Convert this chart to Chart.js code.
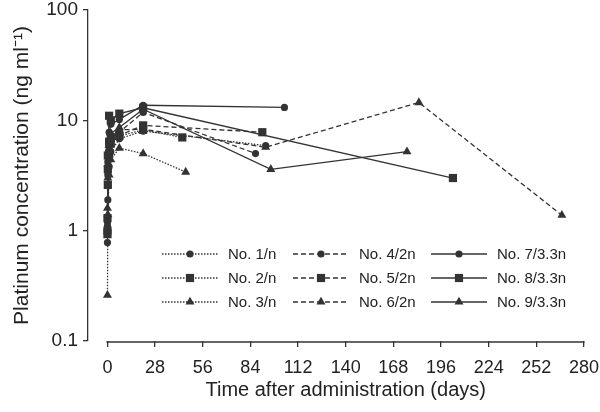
<!DOCTYPE html>
<html>
<head>
<meta charset="utf-8">
<script src="https://cdn.jsdelivr.net/npm/chart.js@4.4.0/dist/chart.umd.min.js"></script>
<style>
  html, body { margin: 0; padding: 0; background: #fff; }
  #wrap { width: 600px; height: 412px; }
</style>
</head>
<body>
<div id="wrap"><canvas id="grafico" width="600" height="412"></canvas></div>
<script>
// days after administration / platinum (ng/ml)
const t1 = [0.04, 0.25, 1, 2, 7, 21, 93];
const c1 = [0.78, 1.9, 3.8, 5.2, 6.8, 8.0, 5.9];
const t2 = [0.04, 0.25, 1, 2, 7, 21, 44];
const c2 = [1.0, 2.6, 5.0, 6.2, 7.2, 8.2, 7.0];
const t3 = [0.04, 0.25, 1, 2, 7, 21, 46];
const c3 = [0.26, 1.4, 3.2, 4.4, 5.6, 5.0, 3.4];
const t4 = [0.04, 0.25, 1, 2, 7, 21, 87];
const c4 = [1.1, 3.2, 5.6, 6.8, 7.8, 11.8, 5.0];
const t5 = [0.04, 0.25, 1, 2, 7, 21, 91];
const c5 = [1.3, 3.6, 6.4, 7.0, 7.3, 9.0, 7.8];
const t6 = [0.04, 0.25, 1, 2, 7, 21, 93, 183, 267];
const c6 = [1.6, 4.0, 6.0, 7.2, 8.2, 8.3, 5.7, 14.5, 1.38];
const t7 = [0.04, 0.25, 1, 2, 7, 21, 104];
const c7 = [1.2, 4.2, 7.8, 9.2, 10.2, 13.7, 13.1];
const t8 = [0.04, 0.25, 1, 2, 7, 21, 203];
const c8 = [0.95, 4.8, 11.0, 10.0, 11.5, 13.0, 3.0];
const t9 = [0.04, 0.25, 1, 2, 7, 21, 96, 176];
const c9 = [0.9, 3.0, 6.0, 7.6, 8.6, 12.6, 3.6, 5.2];

const nomes = ['No. 1/n', 'No. 2/n', 'No. 3/n', 'No. 4/2n', 'No. 5/2n', 'No. 6/2n', 'No. 7/3.3n', 'No. 8/3.3n', 'No. 9/3.3n'];
const tempos = [t1, t2, t3, t4, t5, t6, t7, t8, t9];
const concs = [c1, c2, c3, c4, c5, c6, c7, c8, c9];
const xTicks = [0, 28, 56, 84, 112, 140, 168, 196, 224, 252, 280];
const yTicks = [0.1, 1, 10, 100];
const tituloX = 'Time after administration (days)';

const cor = '#333';
const fonte = '"Liberation Sans", Arial, sans-serif';
const tracos = [[1.5, 1.5], [5, 3], []];       // n, 2n, 3.3n
const marcas = ['circle', 'rect', 'triangle'];
const raios = { circle: 3.6, rect: 5.8, triangle: 5.2 };

const datasets = nomes.map((nome, i) => {
  const estilo = marcas[i % 3];
  return {
    label: nome,
    data: tempos[i].map((t, k) => ({ x: t, y: concs[i][k] })),
    borderColor: cor,
    backgroundColor: cor,
    borderWidth: 1.3,
    borderDash: tracos[Math.floor(i / 3)],
    pointStyle: estilo,
    pointRadius: raios[estilo],
    pointBorderWidth: 0,
    pointBackgroundColor: cor,
    tension: 0
  };
});

function marca(ctx, estilo, x, y) {
  const r = raios[estilo];
  ctx.beginPath();
  if (estilo === 'circle') {
    ctx.arc(x, y, r, 0, Math.PI * 2);
  } else if (estilo === 'rect') {
    const s = r * Math.SQRT1_2;
    ctx.rect(x - s, y - s, 2 * s, 2 * s);
  } else {
    ctx.moveTo(x, y - r);
    ctx.lineTo(x + r * 0.866, y + r * 0.5);
    ctx.lineTo(x - r * 0.866, y + r * 0.5);
    ctx.closePath();
  }
  ctx.fill();
}

// legend laid out in 3 columns inside the plot
const legenda = {
  id: 'legenda',
  afterDraw(chart) {
    const ctx = chart.ctx;
    const colX = [162, 293, 431];
    const rowY = [254, 278, 302];
    ctx.save();
    ctx.font = '15px ' + fonte;
    ctx.textBaseline = 'middle';
    chart.data.datasets.forEach((ds, i) => {
      const col = Math.floor(i / 3), row = i % 3;
      const x0 = colX[col], y = rowY[row];
      ctx.strokeStyle = cor;
      ctx.lineWidth = 1.3;
      ctx.setLineDash(ds.borderDash);
      ctx.beginPath();
      ctx.moveTo(x0, y);
      ctx.lineTo(x0 + 56, y);
      ctx.stroke();
      ctx.setLineDash([]);
      ctx.fillStyle = cor;
      marca(ctx, ds.pointStyle, x0 + 28, y);
      ctx.fillStyle = '#222';
      ctx.fillText(ds.label, x0 + 66, y + 1);
    });
    ctx.restore();
  }
};

// x axis line (and its title) starts at day 0, not at the y axis
const eixoX = {
  id: 'eixoX',
  afterDraw(chart) {
    const sx = chart.scales.x, ctx = chart.ctx;
    const yb = chart.chartArea.bottom + 1;
    const x0 = sx.getPixelForValue(0), x1 = sx.getPixelForValue(280);
    ctx.save();
    ctx.strokeStyle = cor;
    ctx.lineWidth = 1.3;
    ctx.beginPath();
    ctx.moveTo(x0 - 1, yb);
    ctx.lineTo(x1 + 0.5, yb);
    ctx.stroke();
    ctx.fillStyle = '#222';
    ctx.font = '20px ' + fonte;
    ctx.textAlign = 'center';
    ctx.textBaseline = 'middle';
    ctx.fillText(tituloX, (x0 + x1) / 2, 390);
    ctx.restore();
  }
};

const ctx = document.getElementById('grafico').getContext('2d');
const grafico = new Chart(ctx, {
  type: 'line',
  data: { datasets },
  plugins: [legenda, eixoX],
  options: {
    responsive: false,
    animation: false,
    layout: { padding: { top: 10, right: 16, left: 0, bottom: 0 } },
    plugins: { legend: { display: false }, tooltip: { enabled: false } },
    scales: {
      x: {
        type: 'linear',
        min: -11.4,
        max: 280,
        afterBuildTicks: s => { s.ticks = xTicks.map(v => ({ value: v })); },
        afterFit: s => { s.height = 71; s.paddingLeft = 0; s.paddingRight = 0; },
        border: { display: false },
        grid: { display: true, drawOnChartArea: false, tickLength: 6, color: cor, lineWidth: 1.3, offset: false },
        ticks: { color: '#222', padding: 10, maxRotation: 0, font: { family: fonte, size: 18 } },
        title: { display: false }
      },
      y: {
        type: 'logarithmic',
        min: 0.1,
        max: 100,
        afterBuildTicks: s => { s.ticks = yTicks.map(v => ({ value: v })); },
        afterFit: s => { s.width = 88; s.paddingTop = 0; s.paddingBottom = 0; },
        border: { display: true, color: cor, width: 1.3 },
        grid: { display: true, drawOnChartArea: false, tickLength: 5, color: cor, lineWidth: 1.3 },
        ticks: { color: '#222', padding: 5, callback: v => String(v), font: { family: fonte, size: 19 } },
        title: { display: true, text: 'Platinum concentration (ng ml\u207B\u00B9)', color: '#222', padding: { top: 10, bottom: 10 }, font: { family: fonte, size: 21 } }
      }
    }
  }
});
</script>
</body>
</html>
